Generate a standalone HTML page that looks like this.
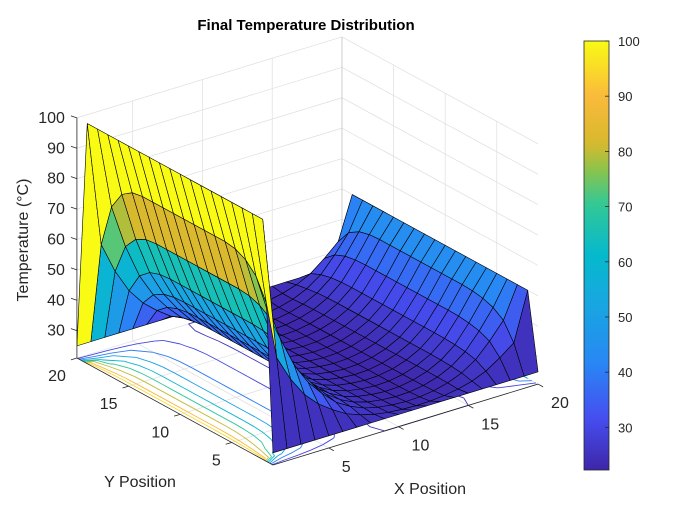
<!DOCTYPE html>
<html><head><meta charset="utf-8"><style>
html,body{margin:0;padding:0;background:#fff;}
svg{display:block;font-family:"Liberation Sans",Arial,sans-serif;}
</style></head><body>
<svg id="chart" width="700" height="525" viewBox="0 0 700 525" xmlns="http://www.w3.org/2000/svg">
<rect x="0" y="0" width="700" height="525" fill="#fff"/>
<text x="306" y="30" text-anchor="middle" font-size="15" font-weight="bold" fill="#000">Final Temperature Distribution</text>
<g id="grid"></g>
<g id="contours"></g>
<g id="surface"></g>
<g id="axes"></g>
<text x="140" y="487" text-anchor="middle" font-size="16" fill="#262626">Y Position</text>
<text x="430" y="494" text-anchor="middle" font-size="16" fill="#262626">X Position</text>
<text transform="translate(28,240) rotate(-90)" text-anchor="middle" font-size="16" fill="#262626">Temperature (°C)</text>
<defs><linearGradient id="cbgrad" x1="0" y1="1" x2="0" y2="0"></linearGradient></defs>
<g id="colorbar"></g>
</svg>
<script>
// ---- data ----
const xValues = [1,2,3,4,5,6,7,8,9,10,11,12,13,14,15,16,17,18,19,20];
const yValues = [1,2,3,4,5,6,7,8,9,10,11,12,13,14,15,16,17,18,19,20];
const baseTemp = 21;
const edgeTemp = 25;
const leftWallTemp = 100;
const rightWallTemp = 50;
const midTemps = [100,82,65,52,43,36.5,31,27.5,25,23.5,22.7,22.3,22.5,23.3,24.8,27.2,31,37,44,50];
const yShape = [0,0.5,0.78,0.9,0.96,0.99,1,1,1,1,1,1,1,1,1,0.99,0.95,0.85,0.6,0];
const edgeWeight = [1,0.4,0.18,0.08,0.03,0.01,0,0,0,0,0,0,0,0,0,0,0.01,0.05,0.3,1];
const zTicks = [30,40,50,60,70,80,90,100];
const xTicks = [5,10,15,20];
const yTicks = [5,10,15,20];
const cbTicks = [30,40,50,60,70,80,90,100];
const contourLevels = [25,30,40,50,60,70,80,90,95];

const NS = "http://www.w3.org/2000/svg";
const N = xValues.length, M = yValues.length;
const Z = [];
for (let i = 0; i < N; i++) {
  Z.push([]);
  for (let j = 0; j < M; j++) {
    let v;
    if (j === 0 || j === M - 1) v = edgeTemp;
    else if (i === 0) v = leftWallTemp;
    else if (i === N - 1) v = rightWallTemp;
    else v = baseTemp + (midTemps[i] - baseTemp) * yShape[j] + (edgeTemp - baseTemp) * edgeWeight[j];
    Z[i].push(v);
  }
}
let cmin = Infinity, cmax = -Infinity;
Z.forEach(r => r.forEach(v => { cmin = Math.min(cmin, v); cmax = Math.max(cmax, v); }));
const zMin = 21, zMax = 100;

const O = [273, 465], EX = [13.95, -4.26], EY = [-10.32, -5.63], EZ = 3.04;
function P(x, y, z) {
  return [O[0] + (x - 1) * EX[0] + (y - 1) * EY[0], O[1] + (x - 1) * EX[1] + (y - 1) * EY[1] - (z - zMin) * EZ];
}
function depth(x, y, z) { return 9.53 * x + 12.58 * y - 1.36 * z; }

const stops = [[0,62,38,168],[0.12,70,78,240],[0.25,40,135,245],[0.38,25,165,225],[0.5,5,185,205],[0.62,50,200,150],[0.7,140,195,75],[0.76,215,185,45],[0.87,250,185,60],[1,249,251,20]];
function parula(t) {
  t = Math.max(0, Math.min(1, t));
  for (let k = 1; k < stops.length; k++) {
    if (t <= stops[k][0]) {
      const a = stops[k - 1], b = stops[k], f = (t - a[0]) / (b[0] - a[0]);
      return `rgb(${Math.round(a[1] + f * (b[1] - a[1]))},${Math.round(a[2] + f * (b[2] - a[2]))},${Math.round(a[3] + f * (b[3] - a[3]))})`;
    }
  }
  return "rgb(249,251,20)";
}
function cmap(v) { return parula((v - cmin) / (cmax - cmin)); }
function line(g, a, b, stroke, w, name) {
  const l = document.createElementNS(NS, "line");
  l.setAttribute("x1", a[0].toFixed(2)); l.setAttribute("y1", a[1].toFixed(2));
  l.setAttribute("x2", b[0].toFixed(2)); l.setAttribute("y2", b[1].toFixed(2));
  l.setAttribute("stroke", stroke); l.setAttribute("stroke-width", w);
  
  
  g.appendChild(l);
}
function text(g, x, y, s, anchor, size, name) {
  const t = document.createElementNS(NS, "text");
  t.setAttribute("x", x); t.setAttribute("y", y);
  t.setAttribute("text-anchor", anchor); t.setAttribute("font-size", size);
  t.setAttribute("fill", "#262626");
  t.textContent = s;
  
  
  g.appendChild(t);
}

const grid = document.getElementById("grid");
const gc = "#dedede";
xTicks.forEach(x => {
  line(grid, P(x, 1, zMin), P(x, 20, zMin), gc, 0.7, "floor-grid-x");
  line(grid, P(x, 20, zMin), P(x, 20, zMax), gc, 0.7, "back-grid-x");
});
yTicks.forEach(y => {
  line(grid, P(1, y, zMin), P(20, y, zMin), gc, 0.7, "floor-grid-y");
  line(grid, P(20, y, zMin), P(20, y, zMax), gc, 0.7, "side-grid-y");
});
zTicks.forEach(z => {
  line(grid, P(1, 20, z), P(20, 20, z), gc, 0.7, "back-grid-z");
  line(grid, P(20, 20, z), P(20, 1, z), gc, 0.7, "side-grid-z");
});
line(grid, P(20, 20, zMin), P(20, 20, zMax), "#c8c8c8", 0.8, "back-corner-edge");

const cg = document.getElementById("contours");
contourLevels.forEach(L => {
  const col = cmap(L);
  for (let i = 0; i < N - 1; i++) for (let j = 0; j < M - 1; j++) {
    const c = [[i, j], [i + 1, j], [i + 1, j + 1], [i, j + 1]];
    const pts = [];
    for (let k = 0; k < 4; k++) {
      const a = c[k], b = c[(k + 1) % 4];
      const va = Z[a[0]][a[1]], vb = Z[b[0]][b[1]];
      if ((va < L) !== (vb < L)) {
        const f = (L - va) / (vb - va);
        pts.push(P(xValues[a[0]] + f * (xValues[b[0]] - xValues[a[0]]), yValues[a[1]] + f * (yValues[b[1]] - yValues[a[1]]), zMin));
      }
    }
    for (let k = 0; k + 1 < pts.length; k += 2) line(cg, pts[k], pts[k + 1], col, 0.9, "contour-line");
  }
});

const sg = document.getElementById("surface");
const faces = [];
for (let i = 0; i < N - 1; i++) for (let j = 0; j < M - 1; j++) {
  const vs = [[i, j], [i + 1, j], [i + 1, j + 1], [i, j + 1]];
  let d = 0;
  const pts = vs.map(v => { const x = xValues[v[0]], y = yValues[v[1]], z = Z[v[0]][v[1]]; d += depth(x, y, z); return P(x, y, z); });
  faces.push({ pts, d: d / 4, v: Z[i][j] });
}
faces.sort((a, b) => b.d - a.d);
faces.forEach(f => {
  const p = document.createElementNS(NS, "polygon");
  p.setAttribute("points", f.pts.map(q => q[0].toFixed(2) + "," + q[1].toFixed(2)).join(" "));
  p.setAttribute("fill", cmap(f.v));
  p.setAttribute("stroke", "#000");
  p.setAttribute("stroke-width", "0.6");
  p.setAttribute("stroke-linejoin", "round");
  
  
  sg.appendChild(p);
});

const ax = document.getElementById("axes");
const ac = "#262626";
line(ax, P(1, 1, zMin), P(20, 1, zMin), ac, 0.8, "x-axis-line");
line(ax, P(1, 1, zMin), P(1, 20, zMin), ac, 0.8, "y-axis-line");
line(ax, P(1, 20, zMin), P(1, 20, zMax), ac, 0.8, "z-axis-line");
xTicks.forEach(x => {
  const a = P(x, 1, zMin);
  line(ax, a, [a[0] + 5, a[1] + 2.8], ac, 0.8, "x-tick");
  text(ax, a[0] + 13, a[1] + 24, String(x), "start", 16, "x-tick-label");
});
yTicks.forEach(y => {
  const a = P(1, y, zMin);
  line(ax, a, [a[0] - 6, a[1] + 1.8], ac, 0.8, "y-tick");
  text(ax, a[0] - 11, a[1] + 23, String(y), "end", 16, "y-tick-label");
});
zTicks.forEach(z => {
  const a = P(1, 20, z);
  line(ax, a, [a[0] - 6, a[1] - 2], ac, 0.8, "z-tick");
  text(ax, a[0] - 12, a[1] + 5, String(z), "end", 16, "z-tick-label");
});

const cb = document.getElementById("colorbar");
const grad = document.getElementById("cbgrad");
for (let k = 0; k <= 40; k++) {
  const s = document.createElementNS(NS, "stop");
  s.setAttribute("offset", (k / 40).toFixed(3));
  s.setAttribute("stop-color", parula(k / 40));
  grad.appendChild(s);
}
const cbX = 584, cbW = 25, cbTop = 41, cbBot = 470;
const cbr = document.createElementNS(NS, "rect");
cbr.setAttribute("x", cbX); cbr.setAttribute("y", cbTop); cbr.setAttribute("width", cbW); cbr.setAttribute("height", cbBot - cbTop);
cbr.setAttribute("fill", "url(#cbgrad)"); cbr.setAttribute("stroke", "#262626"); cbr.setAttribute("stroke-width", "0.8");


cb.appendChild(cbr);
cbTicks.forEach(v => {
  const y = cbBot - (v - cmin) / (cmax - cmin) * (cbBot - cbTop);
  line(cb, [cbX + cbW - 4, y], [cbX + cbW, y], "#262626", 0.8, "colorbar-tick");
  text(cb, cbX + cbW + 9, y + 5, String(v), "start", 13, "colorbar-tick-label");
});
</script>
</body></html>
